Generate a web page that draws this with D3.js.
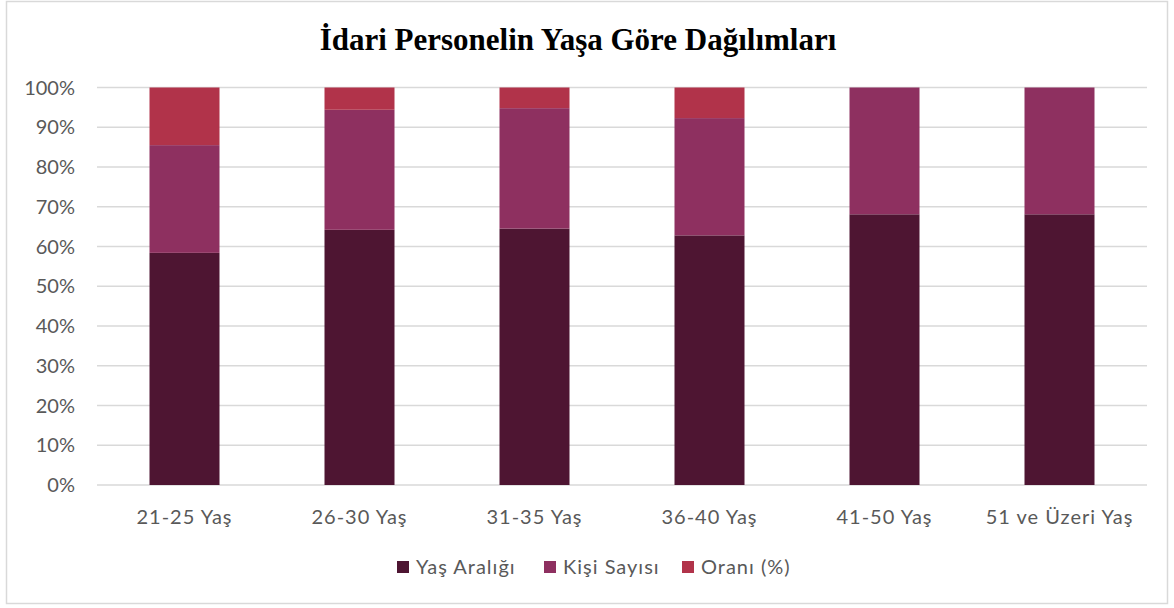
<!DOCTYPE html>
<html>
<head>
<meta charset="utf-8">
<script src="https://cdn.jsdelivr.net/npm/d3@7"></script>
<style>
  body { margin: 0; background: #fff; }
</style>
</head>
<body>
<script>
const categories = ["21-25 Yaş", "26-30 Yaş", "31-35 Yaş", "36-40 Yaş", "41-50 Yaş", "51 ve Üzeri Yaş"];
const seriesNames = ["Yaş Aralığı", "Kişi Sayısı", "Oranı (%)"];
const yasAraligi = [58.4, 64.2, 64.5, 62.8, 68.1, 68.1];
const kisiSayisi = [27.1, 30.2, 30.3, 29.5, 31.9, 31.9];
const orani = [14.5, 5.6, 5.2, 7.7, 0, 0];
const yTicks = [0, 10, 20, 30, 40, 50, 60, 70, 80, 90, 100];
const colors = ["#4E1532", "#8E3060", "#B1334A"];

const width = 1174, height = 608;
const font = "'Gill Sans', 'Gill Sans MT', Lato, sans-serif";

const svg = d3.select("body").append("svg")
    .attr("width", width)
    .attr("height", height);

svg.append("rect")
    .attr("x", 6.5).attr("y", 1.5)
    .attr("width", 1161).attr("height", 602)
    .attr("fill", "#fff")
    .attr("stroke", "#d9d9d9")
    .attr("stroke-width", 1.5);

svg.append("text")
    .attr("x", 578).attr("y", 50)
    .attr("text-anchor", "middle")
    .style("font-family", "'Times New Roman', 'Liberation Serif', serif")
    .style("font-weight", "bold")
    .style("font-size", "31px")
    .attr("fill", "#000")
    .text("İdari Personelin Yaşa Göre Dağılımları");

const x = d3.scaleBand().domain(categories).range([97, 1147]).paddingInner(0.6).paddingOuter(0.3);
const y = d3.scaleLinear().domain([0, 100]).range([485, 87.5]);

// gridlines
svg.append("g").selectAll("line")
    .data(yTicks)
    .enter().append("line")
    .attr("x1", 97).attr("x2", 1147)
    .attr("y1", d => y(d)).attr("y2", d => y(d))
    .attr("stroke", "#d9d9d9")
    .attr("stroke-width", 1.5);

// y axis labels
svg.append("g").selectAll("text")
    .data(yTicks)
    .enter().append("text")
    .attr("x", 75).attr("y", d => y(d) + 7)
    .attr("text-anchor", "end")
    .style("font-family", font)
    .style("font-size", "20px")
    .attr("fill", "#595959")
    .text(d => d + "%");

const table = categories.map((c, i) => ({
    cat: c,
    [seriesNames[0]]: yasAraligi[i],
    [seriesNames[1]]: kisiSayisi[i],
    [seriesNames[2]]: orani[i]
}));

const stacked = d3.stack().keys(seriesNames)
    .offset(d3.stackOffsetExpand)(table);

svg.append("g").selectAll("g")
    .data(stacked)
    .enter().append("g")
    .attr("fill", (d, i) => colors[i])
    .selectAll("rect")
    .data(d => d)
    .enter().append("rect")
    .attr("x", d => x(d.data.cat))
    .attr("width", x.bandwidth())
    .attr("y", d => y(d[1] * 100))
    .attr("height", d => y(d[0] * 100) - y(d[1] * 100));

// x labels
svg.append("g").selectAll("text")
    .data(categories)
    .enter().append("text")
    .attr("x", d => x(d) + x.bandwidth() / 2)
    .attr("y", 524)
    .attr("text-anchor", "middle")
    .style("font-family", font)
    .style("font-size", "20px")
    .style("letter-spacing", "1px")
    .attr("fill", "#595959")
    .text(d => d);

// legend
const legendX = [397, 544, 682];
const legend = svg.append("g").selectAll("g")
    .data(seriesNames)
    .enter().append("g")
    .attr("transform", (d, i) => `translate(${legendX[i]},561)`);

legend.append("rect")
    .attr("width", 12).attr("height", 12)
    .attr("fill", (d, i) => colors[i]);

legend.append("text")
    .attr("x", 19).attr("y", 13)
    .style("font-family", font)
    .style("font-size", "20px")
    .style("letter-spacing", "1px")
    .attr("fill", "#595959")
    .text(d => d);
</script>
</body>
</html>
